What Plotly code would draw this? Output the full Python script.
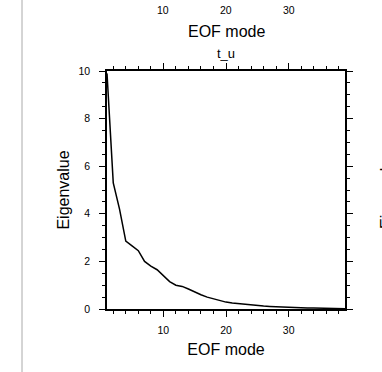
import plotly.graph_objects as go

modes = list(range(1, 40))
eigenvalues = [9.9, 5.3, 4.2, 2.85, 2.65, 2.45, 2.0, 1.8, 1.65, 1.4,
               1.15, 1.0, 0.95, 0.84, 0.71, 0.6, 0.5, 0.42, 0.35, 0.29,
               0.25, 0.22, 0.19, 0.17, 0.145, 0.125, 0.11, 0.095, 0.082, 0.07,
               0.06, 0.052, 0.045, 0.04, 0.035, 0.03, 0.025, 0.02, 0.015]
x_ticks = [10, 20, 30]
y_ticks = [0, 2, 4, 6, 8, 10]
title_text = "t_u"
x_title = "EOF mode"
y_title = "Eigenvalue"

FONT = "Liberation Sans, Arial, Helvetica, sans-serif"
L, R, T, B = 107, 37, 71, 63
W, H = 382, 372
PH = H - T - B

def py(p):
    return (H - B - p) / PH

def px(p):
    return (p - L) / (W - L - R)

fig = go.Figure()
fig.add_trace(go.Scatter(x=modes, y=eigenvalues, mode="lines",
                         line=dict(color="black", width=1.5),
                         showlegend=False, hoverinfo="skip"))

axis_common = dict(
    showgrid=False, zeroline=False, showline=True, linecolor="black",
    linewidth=1.5, mirror="allticks", ticks="outside", ticklen=6,
    tickwidth=1.2, tickcolor="black",
    tickfont=dict(family=FONT, size=10.5, color="black"),
)
fig.update_xaxes(range=[1, 39], tickvals=x_ticks, ticktext=[str(v) for v in x_ticks],
                 ticklabelstandoff=5,
                 minor=dict(dtick=2, tick0=0, ticklen=3, tickcolor="black", ticks="outside", tickwidth=1),
                 title=dict(text=x_title, font=dict(family=FONT, size=16, color="black"), standoff=8),
                 **axis_common)
fig.update_yaxes(range=[0, 10], tickvals=y_ticks, ticktext=[str(v) for v in y_ticks],
                 ticklabelstandoff=7,
                 minor=dict(dtick=0.5, tick0=0, ticklen=3, tickcolor="black", ticks="outside", tickwidth=1),
                 title=dict(text=y_title, font=dict(family=FONT, size=16, color="black"), standoff=5),
                 **axis_common)

# partial panel above: tick labels and axis title
for v in x_ticks:
    fig.add_annotation(x=v, xref="x", y=py(10), yref="paper", text=str(v), showarrow=False,
                       font=dict(family=FONT, size=10.5, color="black"), xanchor="center", yanchor="middle")
fig.add_annotation(x=20, xref="x", y=py(32), yref="paper", text=x_title, showarrow=False,
                   font=dict(family=FONT, size=16, color="black"), xanchor="center", yanchor="middle")
fig.add_annotation(x=20, xref="x", y=py(53), yref="paper", text=title_text, showarrow=False,
                   font=dict(family=FONT, size=13, color="black"), xanchor="center", yanchor="middle")
# partial panel to the right: its y-axis title (cut by the window edge, as in the reference)
fig.add_annotation(x=px(386), xref="paper", y=py(190), yref="paper", text=y_title, showarrow=False,
                   textangle=-90, font=dict(family=FONT, size=16, color="black"),
                   xanchor="center", yanchor="middle")
# partial panel to the left: a frame line
fig.add_shape(type="line", xref="paper", yref="paper", x0=px(22), x1=px(22),
              y0=py(372), y1=py(0), line=dict(color="#aaaaaa", width=1))

fig.update_layout(width=W, height=H, margin=dict(l=L, r=R, t=T, b=B, pad=0),
                  paper_bgcolor="white", plot_bgcolor="white",
                  font=dict(family=FONT, color="black"))
fig.write_html("out.html", config={"displayModeBar": False})
